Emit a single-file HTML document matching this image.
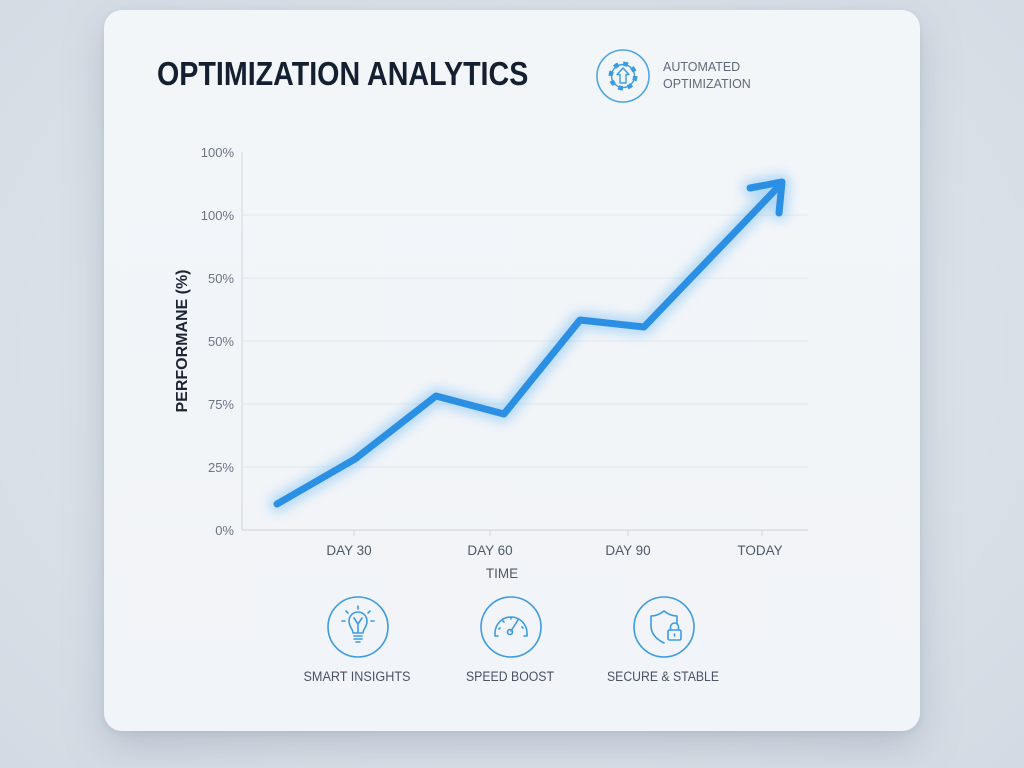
<!DOCTYPE html>
<html>
<head>
<meta charset="utf-8">
<style>
  html,body{margin:0;padding:0;}
  body{width:1024px;height:768px;overflow:hidden;
    background:radial-gradient(ellipse at 50% 45%, #e6ebf0 0%, #dae1e8 60%, #d3dae3 100%);
    font-family:"Liberation Sans", sans-serif;position:relative;}
  .card{position:absolute;left:104px;top:10px;width:816px;height:721px;border-radius:18px;
    background:linear-gradient(180deg,#f3f6f9 0%,#f1f4f8 100%);
    box-shadow:0 14px 40px rgba(120,135,155,0.35),0 2px 6px rgba(120,135,155,0.15);}
  .title{position:absolute;left:157px;top:55px;font-size:33px;font-weight:bold;color:#14202f;
    white-space:nowrap;transform:scaleX(0.868);transform-origin:left top;letter-spacing:0px;}
  .auto{position:absolute;left:663px;top:58px;font-size:13px;line-height:17px;color:#5f6b7a;
    transform:scaleX(0.96);transform-origin:left top;}
  svg{position:absolute;left:0;top:0;}
</style>
</head>
<body>
<div class="card"></div>
<div class="title">OPTIMIZATION ANALYTICS</div>
<div class="auto">AUTOMATED<br>OPTIMIZATION</div>
<svg width="1024" height="768" viewBox="0 0 1024 768">
  <defs>
    <filter id="glow" x="-20%" y="-20%" width="140%" height="140%">
      <feGaussianBlur stdDeviation="6"/>
    </filter>
  </defs>
  <!-- gear icon -->
  <circle cx="623" cy="76" r="26" fill="none" stroke="#4ea5e2" stroke-width="1.6"/>
  <circle cx="623" cy="76" r="12" fill="none" stroke="#3d9be0" stroke-width="5" stroke-dasharray="4.6 4.8"/>
  <circle cx="623" cy="76" r="11.5" fill="none" stroke="#3d9be0" stroke-width="1.4"/>
  <circle cx="623" cy="76" r="10" fill="#f2f5f8"/>
  <path d="M623 68 L629 74.5 L626 74.5 L626 83 L620 83 L620 74.5 L617 74.5 Z" fill="none" stroke="#3d9be0" stroke-width="1.4" stroke-linejoin="round"/>

  <!-- gridlines -->
  <g stroke="#e3e8ee" stroke-width="1">
    <line x1="243" y1="215" x2="808" y2="215"/>
    <line x1="243" y1="278" x2="808" y2="278"/>
    <line x1="243" y1="341" x2="808" y2="341"/>
    <line x1="243" y1="404" x2="808" y2="404"/>
    <line x1="243" y1="467" x2="808" y2="467"/>
  </g>
  <!-- axes -->
  <line x1="242" y1="152" x2="242" y2="530" stroke="#d5dbe2" stroke-width="1.2"/>
  <line x1="242" y1="530" x2="808" y2="530" stroke="#d5dbe2" stroke-width="1.2"/>
  <g stroke="#cfd6de" stroke-width="1">
    <line x1="354" y1="530" x2="354" y2="536"/>
    <line x1="490" y1="530" x2="490" y2="536"/>
    <line x1="628" y1="530" x2="628" y2="536"/>
    <line x1="762" y1="530" x2="762" y2="536"/>
  </g>
  <!-- y labels -->
  <g font-family="Liberation Sans, sans-serif" font-size="13" fill="#6b7583" text-anchor="end">
    <text x="234" y="157">100%</text>
    <text x="234" y="220">100%</text>
    <text x="234" y="283">50%</text>
    <text x="234" y="346">50%</text>
    <text x="234" y="409">75%</text>
    <text x="234" y="472">25%</text>
    <text x="234" y="535">0%</text>
  </g>
  <text x="0" y="0" transform="translate(187,341) rotate(-90)" font-family="Liberation Sans, sans-serif" font-size="16" font-weight="bold" fill="#1c2533" text-anchor="middle" textLength="143" lengthAdjust="spacingAndGlyphs">PERFORMANE (%)</text>
  <!-- x labels -->
  <g font-family="Liberation Sans, sans-serif" font-size="13.5" fill="#4f5a68" text-anchor="middle">
    <text x="349" y="555">DAY 30</text>
    <text x="490" y="555">DAY 60</text>
    <text x="628" y="555">DAY 90</text>
    <text x="760" y="555">TODAY</text>
    <text x="502" y="578">TIME</text>
  </g>

  <!-- series glow -->
  <g fill="none" stroke-linecap="round" stroke-linejoin="round">
    <path d="M277 504 L355 459 L436 396 L504 414 L580 320 L644 327 L781 184 M750 188 L782 182 L779 213" stroke="#5fb2f2" stroke-width="16" opacity="0.45" filter="url(#glow)"/>
    <path d="M277 504 L355 459 L436 396 L504 414 L580 320 L644 327 L781 184 M750 188 L782 182 L779 213" stroke="#2b90e3" stroke-width="7"/>
  </g>

  <!-- bottom icons -->
  <g fill="none" stroke="#3d9be0" stroke-width="1.6" stroke-linecap="round" stroke-linejoin="round">
    <circle cx="358" cy="627" r="30"/>
    <circle cx="511" cy="627" r="30"/>
    <circle cx="664" cy="627" r="30"/>
    <!-- bulb -->
    <path d="M353 633 C353 629 349 627 349 621 A9 9 0 0 1 367 621 C367 627 363 629 363 633 Z"/>
    <path d="M354 636 L362 636 M354 639 L362 639 M356 642 L360 642"/>
    <path d="M354 618 L358 624 L362 618 M358 624 L358 632"/>
    <path d="M358 606 L358 609 M346 611 L348 613 M370 611 L368 613 M342 621 L345 621 M371 621 L374 621"/>
    <!-- gauge -->
    <path d="M495 636 L495 633 A16 16 0 0 1 527 633 L527 636 M495 636 L498 636 M527 636 L524 636"/>
    <path d="M511 631 L518 620"/>
    <circle cx="510" cy="632" r="2.5"/>
    <path d="M499 629 L500 628 M503 621 L504 622 M511 618 L511 619 M523 628 L522 627"/>
    <!-- shield -->
    <path d="M664 611 C659 615 655 616 651 616 L651 626 C651 634 656 639 664 643 M664 611 C669 615 673 616 677 616 L677 624"/>
    <rect x="668" y="630" width="13" height="10" rx="1.5"/>
    <path d="M670.5 630 L670.5 627 A4 4 0 0 1 678.5 627 L678.5 630"/>
    <path d="M674.5 634 L674.5 636"/>
  </g>
  <g font-family="Liberation Sans, sans-serif" font-size="13.5" fill="#4a5462" text-anchor="middle">
    <text x="357" y="681" textLength="107" lengthAdjust="spacingAndGlyphs">SMART INSIGHTS</text>
    <text x="510" y="681" textLength="88" lengthAdjust="spacingAndGlyphs">SPEED BOOST</text>
    <text x="663" y="681" textLength="112" lengthAdjust="spacingAndGlyphs">SECURE &amp; STABLE</text>
  </g>
</svg>
</body>
</html>
